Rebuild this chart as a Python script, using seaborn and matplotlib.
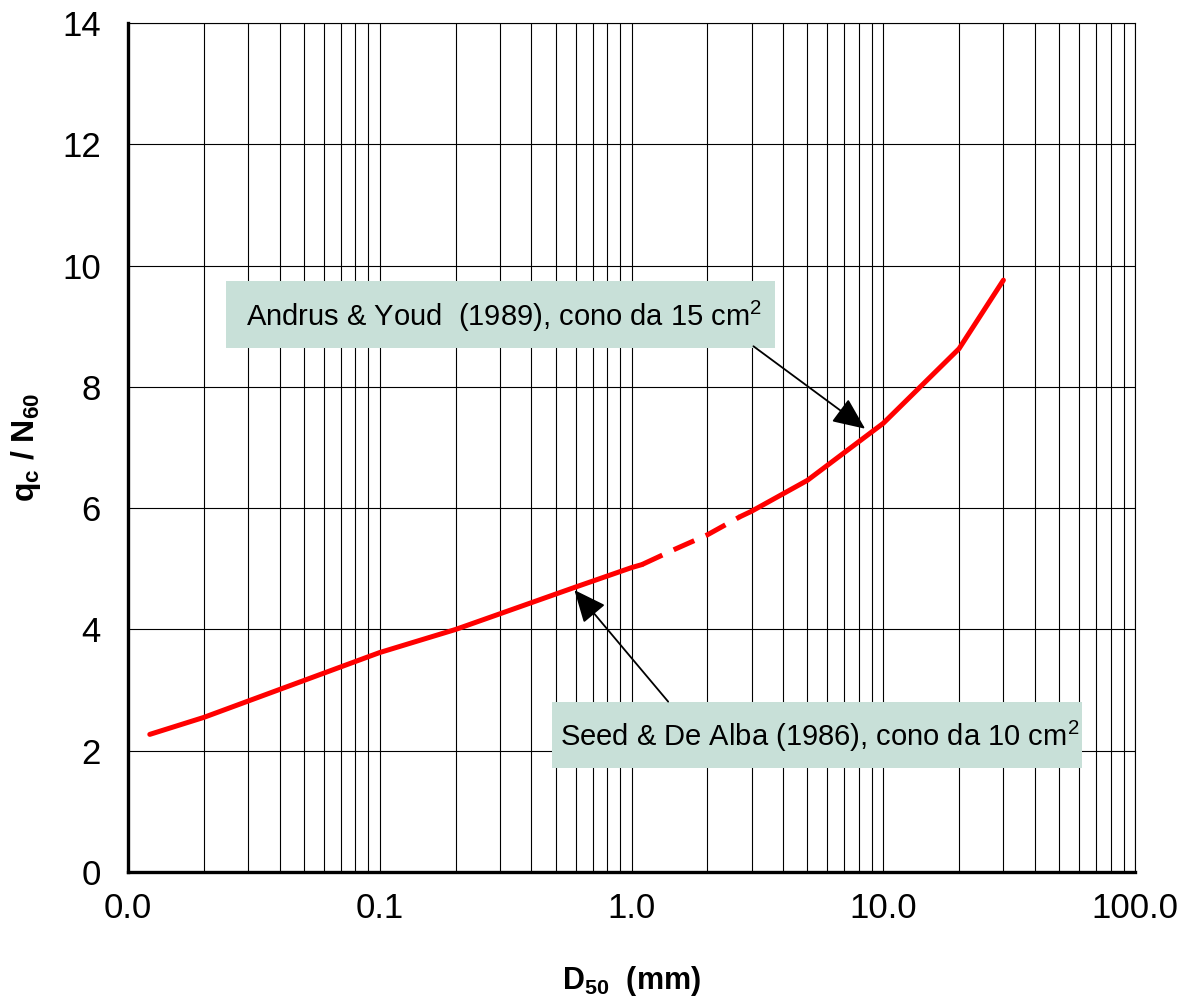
import numpy as np
import pandas as pd
import matplotlib
matplotlib.use("Agg")
import matplotlib.pyplot as plt
from matplotlib.patches import Rectangle
from matplotlib.ticker import LogLocator, FuncFormatter, MultipleLocator, NullFormatter
import seaborn as sns

# Correlation qc/N60 versus D50
seed_d50 = [0.0122, 0.02, 0.1, 0.2, 0.6, 1.0, 1.1]
seed_ratio = [2.27, 2.55, 3.62, 4.00, 4.70, 5.02, 5.07]

bridge_d50 = [1.1, 1.5, 2.0, 2.7]
bridge_ratio = [5.07, 5.33, 5.56, 5.86]

andrus_d50 = [2.7, 3.0, 5.0, 10.0, 20.0, 30.0]
andrus_ratio = [5.86, 5.95, 6.46, 7.40, 8.63, 9.76]

x_ticks = [0.01, 0.1, 1.0, 10.0, 100.0]
y_ticks = [0, 2, 4, 6, 8, 10, 12, 14]

label_andrus = "Andrus & Youd  (1989), cono da 15 cm$^2$"
label_seed = "Seed & De Alba (1986), cono da 10 cm$^2$"

sns.set_style("white")
plt.rcParams["font.family"] = ["Liberation Sans", "DejaVu Sans"]
plt.rcParams["mathtext.fontset"] = "custom"
plt.rcParams["mathtext.rm"] = "Liberation Sans"
plt.rcParams["mathtext.bf"] = "Liberation Sans:bold"
for key in ["text.color", "axes.labelcolor", "xtick.color", "ytick.color"]:
    plt.rcParams[key] = "black"

fig = plt.figure(figsize=(11.9, 10.05), dpi=100)
ax = fig.add_axes([0.1076, 0.1323, 0.8462, 0.8448])

segments = [
    (seed_d50, seed_ratio, "-"),
    (bridge_d50, bridge_ratio, (0, (4.5, 2.5))),
    (andrus_d50, andrus_ratio, "-"),
]
for xs, ys, ls in segments:
    df = pd.DataFrame({"D50": xs, "ratio": ys})
    sns.lineplot(data=df, x="D50", y="ratio", ax=ax, color="#FF0000",
                 lw=3.6, linestyle=ls, estimator=None, sort=False, zorder=3)

ax.set_xscale("log")
ax.set_xlim(0.01, 100)
ax.set_ylim(0, 14)

ax.xaxis.set_minor_locator(LogLocator(base=10, subs=np.arange(2, 10), numticks=100))
ax.xaxis.set_major_formatter(FuncFormatter(lambda v, p: f"{v:.1f}"))
ax.xaxis.set_minor_formatter(NullFormatter())
ax.set_xticks(x_ticks)
ax.set_yticks(y_ticks)
ax.yaxis.set_minor_locator(MultipleLocator(1))

ax.grid(True, which="both", axis="x", color="black", lw=0.8)
ax.grid(True, which="major", axis="y", color="black", lw=0.8)
ax.set_axisbelow(True)

ax.tick_params(which="major", direction="inout", length=17, width=2.2,
               labelsize=25, pad=6, color="black", labelcolor="black")
ax.tick_params(axis="y", which="major", pad=11)
ax.tick_params(which="minor", direction="in", length=7, width=2.0, color="black")
ax.tick_params(axis="x", which="both", top=False)
ax.tick_params(axis="y", which="both", right=False)

for side in ["left", "bottom"]:
    ax.spines[side].set_linewidth(2.4)
    ax.spines[side].set_color("black")
for side in ["top", "right"]:
    ax.spines[side].set_linewidth(0.8)
    ax.spines[side].set_color("black")

ax.set_xlabel(r"$\mathbf{D_{50}}$  (mm)", fontsize=22, fontweight="bold", labelpad=28)
ax.set_ylabel(r"$\mathbf{q_c}$ / $\mathbf{N_{60}}$", fontsize=23, fontweight="bold", labelpad=14)

# Label boxes (axes fraction) with their captions
box_color = "#C8E0D8"
ax.add_patch(Rectangle((0.0973, 0.6172), 0.5452, 0.0789, transform=ax.transAxes,
                       facecolor=box_color, edgecolor="none", zorder=4))
ax.add_patch(Rectangle((0.4211, 0.1225), 0.5263, 0.0777, transform=ax.transAxes,
                       facecolor=box_color, edgecolor="none", zorder=4))
ax.text(0.1172, 0.655, label_andrus, fontsize=21, ha="left", va="center",
        transform=ax.transAxes, zorder=5)
ax.text(0.4290, 0.160, label_seed, fontsize=21, ha="left", va="center",
        transform=ax.transAxes, zorder=5)

arrow = dict(arrowstyle="-|>,head_length=0.5,head_width=0.22", color="black",
             lw=1.3, mutation_scale=40, shrinkA=0, shrinkB=0)
ax.annotate("", xy=(8.47, 7.31), xytext=(3.05, 8.67), arrowprops=arrow, zorder=5)
ax.annotate("", xy=(0.593, 4.65), xytext=(1.398, 2.81), arrowprops=arrow, zorder=5)

fig.savefig("out.png", dpi=100)
